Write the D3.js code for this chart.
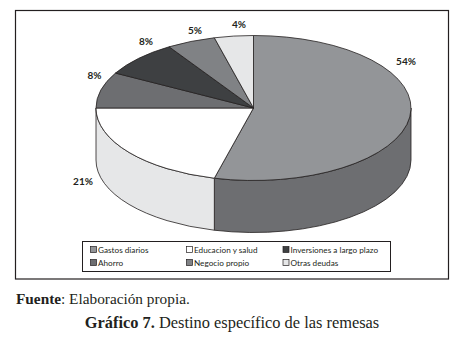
<!DOCTYPE html>
<html lang="es">
<head>
<meta charset="UTF-8">
<title>Destino de las remesas</title>
<script src="https://d3js.org/d3.v7.min.js"></script>
<style>
  html, body { margin: 0; padding: 0; background: #fff; }
  svg { display: block; }
</style>
</head>
<body>
<div id="my_dataviz"></div>
<script>
// data, in the order the slices run clockwise
var categories = ["Gastos diarios", "Educacion y salud", "Ahorro", "Inversiones a largo plazo", "Negocio propio", "Otras deudas"];
var values = [54, 21, 8, 8, 5, 4];
var topColors = ["#939598", "#ffffff", "#6d6e71", "#3e4042", "#808285", "#e6e7e8"];
var sideColors = ["#6d6e71", "#e6e7e8", "#55565a", "#2e3032", "#66676a", "#c8c9cb"];
var legendOrder = [[0, 1, 3], [2, 4, 5]];

var width = 467, height = 337;
var cx = 253.5, cy = 108, rx = 157.5, ry = 72.5, depth = 52;

var svg = d3.select("#my_dataviz").append("svg")
    .attr("width", width)
    .attr("height", height);

// outer frame
svg.append("rect")
    .attr("x", 15.5).attr("y", 10.5)
    .attr("width", 433).attr("height", 268.5)
    .attr("fill", "#fff").attr("stroke", "#231f20").attr("stroke-width", 1.2);

var pie = d3.pie().sort(null).value(function(d) { return d; });
var slices = pie(values);
var arc = d3.arc().innerRadius(0).outerRadius(rx);

// point on the tilted rim for a pie angle
function rim(a, dy) {
  return [cx + rx * Math.sin(a), cy - ry * Math.cos(a) + (dy || 0)];
}

// side wall, only the part facing the viewer (90deg to 270deg)
var sides = svg.append("g");
slices.forEach(function(s, i) {
  var a0 = Math.max(s.startAngle, Math.PI / 2);
  var a1 = Math.min(s.endAngle, Math.PI * 1.5);
  if (a1 <= a0) return;
  var p0 = rim(a0), p1 = rim(a1), q1 = rim(a1, depth), q0 = rim(a0, depth);
  var d = "M" + p0 + "A" + rx + "," + ry + " 0 0 1 " + p1 +
          "L" + q1 + "A" + rx + "," + ry + " 0 0 0 " + q0 + "Z";
  sides.append("path")
      .attr("d", d)
      .attr("fill", sideColors[i])
      .attr("stroke", "#231f20").attr("stroke-width", 0.8);
});

// top of the pie: flat d3 arcs squashed into an ellipse
svg.append("g")
    .attr("transform", "translate(" + cx + "," + cy + ") scale(1," + (ry / rx) + ")")
  .selectAll("path")
  .data(slices)
  .enter().append("path")
    .attr("d", arc)
    .attr("fill", function(d, i) { return topColors[i]; })
    .attr("stroke", "#231f20")
    .attr("stroke-width", 0.8)
    .attr("vector-effect", "non-scaling-stroke");

// percent labels
var labelPos = [[406, 65], [83, 184.5], [94.5, 78.5], [146, 45], [195, 33.5], [239, 28]];
svg.append("g").selectAll("text")
  .data(values)
  .enter().append("text")
    .attr("x", function(d, i) { return labelPos[i][0]; })
    .attr("y", function(d, i) { return labelPos[i][1]; })
    .attr("text-anchor", "middle")
    .style("font", "bold 10px Lato, sans-serif")
    .style("fill", "#231f20")
    .text(function(d) { return d + "%"; });

// legend
svg.append("rect")
    .attr("x", 82.5).attr("y", 241.5)
    .attr("width", 308).attr("height", 30)
    .attr("fill", "#fff").attr("stroke", "#231f20").attr("stroke-width", 1);

var colX = [90.5, 186.5, 283];
var rowY = [249.5, 262.5];
legendOrder.forEach(function(row, r) {
  row.forEach(function(idx, c) {
    svg.append("rect")
        .attr("x", colX[c]).attr("y", rowY[r] - 3)
        .attr("width", 6).attr("height", 6)
        .attr("fill", topColors[idx])
        .attr("stroke", "#231f20").attr("stroke-width", 0.7);
    svg.append("text")
        .attr("x", colX[c] + 7.5).attr("y", rowY[r] + 3)
        .style("font", "8.2px Lato, sans-serif")
        .style("fill", "#231f20")
        .text(categories[idx]);
  });
});

// caption under the chart
var source = svg.append("text")
    .attr("x", 16).attr("y", 304)
    .style("font", "15.3px 'Liberation Serif', serif")
    .style("fill", "#231f20");
source.append("tspan").style("font-weight", "bold").text("Fuente");
source.append("tspan").text(": Elaboración propia.");

var title = svg.append("text")
    .attr("x", 232).attr("y", 328)
    .attr("text-anchor", "middle")
    .style("font", "16.4px 'Liberation Serif', serif")
    .style("fill", "#231f20");
title.append("tspan").style("font-weight", "bold").text("Gráfico 7.");
title.append("tspan").text(" Destino específico de las remesas");
</script>
</body>
</html>
